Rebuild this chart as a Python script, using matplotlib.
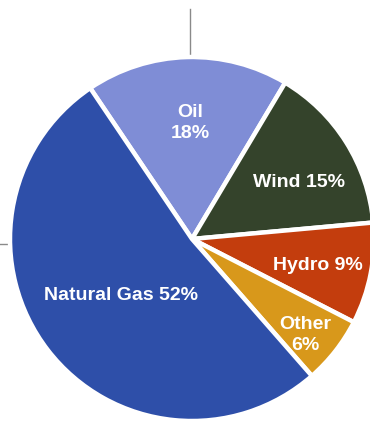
import matplotlib
matplotlib.use("Agg")
import matplotlib.pyplot as plt

# electricity generation mix, percent
sources = ["Oil", "Wind", "Hydro", "Other", "Natural Gas"]
shares = [18, 15, 9, 6, 52]
colors = ["#7f8dd6", "#34432b", "#c33d0d", "#d8981b", "#2e4fa9"]
label_lines = ["Oil\n18%", "Wind 15%", "Hydro 9%", "Other\n6%", "Natural Gas 52%"]

# label anchor points in pixel space (y measured from the bottom)
label_xy = [(190, 304), (299, 244), (318, 162), (305, 92), (121, 132)]

W, H = 370, 427
fig = plt.figure(figsize=(W / 100, H / 100), dpi=100)
ax = fig.add_axes([0, 0, 1, 1])

cx, cy, radius = 192, 187, 182

# thin guide rules behind the pie
ax.plot([190, 190], [H - 10, H - 57], color="#8a8a8a", lw=1.0, zorder=0)
ax.plot([0, 10], [H - 245, H - 245], color="#8a8a8a", lw=1.0, zorder=0)

ax.pie(
    shares,
    colors=colors,
    startangle=124,
    counterclock=False,
    center=(cx, cy),
    radius=radius,
    wedgeprops=dict(edgecolor="white", linewidth=3.2),
    frame=True,
)
ax.set_xlim(0, W)
ax.set_ylim(0, H)
ax.set_aspect("equal")
ax.axis("off")

for text, (tx, ty) in zip(label_lines, label_xy):
    ax.text(tx, ty, text, ha="center", va="center", color="white",
            fontsize=14, fontweight="bold", family="Liberation Sans",
            linespacing=1.35)

fig.savefig("out.png", dpi=100, facecolor="white")
